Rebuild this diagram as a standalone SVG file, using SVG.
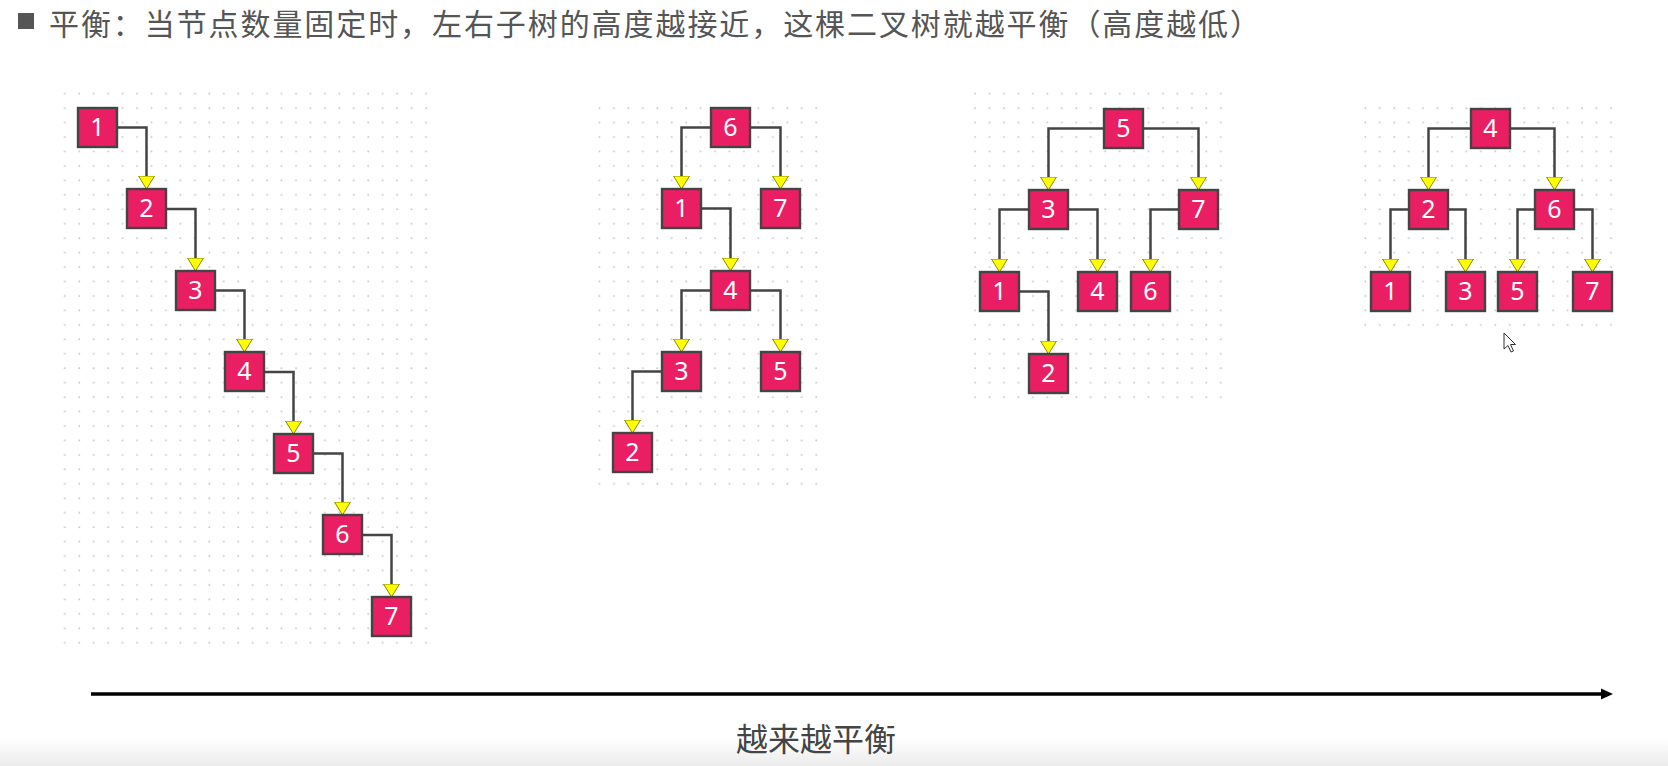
<svg xmlns="http://www.w3.org/2000/svg" width="1668" height="766" viewBox="0 0 1668 766">
<style>
.nd rect{fill:#E91E63;stroke:#444;stroke-width:2.4}
.nd text{fill:#fff;font-family:"Noto Sans","Open Sans",sans-serif;font-size:25px;text-anchor:middle}
.cn path{fill:none;stroke:#444;stroke-width:2.5;marker-end:url(#tri)}
.cjk{font-family:"Noto Sans CJK SC","Noto Sans",sans-serif}
</style>
<defs>
<marker id="tri" markerUnits="userSpaceOnUse" viewBox="0 0 14 17" refX="0.5" refY="8.5" markerWidth="14" markerHeight="17" orient="auto">
<path d="M0.5,0.5 L13.5,8.5 L0.5,16.5 Z" fill="#FFFF00" stroke="#8a8a00" stroke-width="1"/>
</marker>
<pattern id="dots" patternUnits="userSpaceOnUse" width="14.45" height="14.45" x="0" y="0">
<circle cx="7" cy="7" r="1" fill="#c9c9c9"/>
</pattern>
<linearGradient id="bot" x1="0" y1="0" x2="0" y2="1">
<stop offset="0" stop-color="#fff"/>
<stop offset="1" stop-color="#ebebeb"/>
</linearGradient>
</defs>
<rect width="1668" height="766" fill="#fff"/>
<rect x="0" y="738" width="1668" height="28" fill="url(#bot)"/>
<g id="grids">
<rect x="62" y="90" width="366" height="556" fill="url(#dots)"/>
<rect x="597" y="104" width="222" height="384" fill="url(#dots)"/>
<rect x="963" y="92" width="268" height="312" fill="url(#dots)"/>
<rect x="1356" y="99" width="264" height="232" fill="url(#dots)"/>
</g>
<g id="title">
<rect x="18" y="13" width="16" height="16" fill="#555"/>
<text class="cjk" x="49" y="35" font-size="30" fill="#555" textLength="1211" lengthAdjust="spacing">平衡：当节点数量固定时，左右子树的高度越接近，这棵二叉树就越平衡（高度越低）</text>
</g>
<g id="connectors" class="cn">
<path d="M117,127.5 H146.5 V176"/>
<path d="M166,209 H195.5 V258"/>
<path d="M215,290.5 H244.5 V339"/>
<path d="M264,372 H293.5 V421"/>
<path d="M313,453.5 H342.5 V502"/>
<path d="M362,535 H391.5 V584"/>
<path d="M711,127.5 H681.5 V176"/>
<path d="M750,127.5 H780.5 V176"/>
<path d="M701,208.5 H730.5 V258"/>
<path d="M711,290.5 H681.5 V339"/>
<path d="M750,290.5 H780.5 V339"/>
<path d="M662,371.5 H632.5 V420"/>
<path d="M1104,128.5 H1048.5 V177"/>
<path d="M1143,128.5 H1198.5 V177"/>
<path d="M1029,209.5 H999.5 V259"/>
<path d="M1068,209.5 H1097.5 V259"/>
<path d="M1179,209.5 H1150.5 V259"/>
<path d="M1019,291.5 H1048.5 V341"/>
<path d="M1471,128.5 H1428.5 V177"/>
<path d="M1510,128.5 H1554.5 V177"/>
<path d="M1409,209.5 H1390.5 V259"/>
<path d="M1448,209.5 H1465.5 V259"/>
<path d="M1535,209.5 H1517.5 V259"/>
<path d="M1574,209.5 H1592.5 V259"/>
</g>
<g id="t1">
<g id="t1n1" class="nd"><rect x="78" y="108" width="39" height="39"/><text x="97.5" y="136">1</text></g>
<g id="t1n2" class="nd"><rect x="127" y="189" width="39" height="39"/><text x="146.5" y="217">2</text></g>
<g id="t1n3" class="nd"><rect x="176" y="271" width="39" height="39"/><text x="195.5" y="299">3</text></g>
<g id="t1n4" class="nd"><rect x="225" y="352" width="39" height="39"/><text x="244.5" y="380">4</text></g>
<g id="t1n5" class="nd"><rect x="274" y="434" width="39" height="39"/><text x="293.5" y="462">5</text></g>
<g id="t1n6" class="nd"><rect x="323" y="515" width="39" height="39"/><text x="342.5" y="543">6</text></g>
<g id="t1n7" class="nd"><rect x="372" y="597" width="39" height="39"/><text x="391.5" y="625">7</text></g>
</g>
<g id="t2">
<g id="t2n6" class="nd"><rect x="711" y="108" width="39" height="39"/><text x="730.5" y="136">6</text></g>
<g id="t2n1" class="nd"><rect x="662" y="189" width="39" height="39"/><text x="681.5" y="217">1</text></g>
<g id="t2n7" class="nd"><rect x="761" y="189" width="39" height="39"/><text x="780.5" y="217">7</text></g>
<g id="t2n4" class="nd"><rect x="711" y="271" width="39" height="39"/><text x="730.5" y="299">4</text></g>
<g id="t2n3" class="nd"><rect x="662" y="352" width="39" height="39"/><text x="681.5" y="380">3</text></g>
<g id="t2n5" class="nd"><rect x="761" y="352" width="39" height="39"/><text x="780.5" y="380">5</text></g>
<g id="t2n2" class="nd"><rect x="613" y="433" width="39" height="39"/><text x="632.5" y="461">2</text></g>
</g>
<g id="t3">
<g id="t3n5" class="nd"><rect x="1104" y="109" width="39" height="39"/><text x="1123.5" y="137">5</text></g>
<g id="t3n3" class="nd"><rect x="1029" y="190" width="39" height="39"/><text x="1048.5" y="218">3</text></g>
<g id="t3n7" class="nd"><rect x="1179" y="190" width="39" height="39"/><text x="1198.5" y="218">7</text></g>
<g id="t3n1" class="nd"><rect x="980" y="272" width="39" height="39"/><text x="999.5" y="300">1</text></g>
<g id="t3n4" class="nd"><rect x="1078" y="272" width="39" height="39"/><text x="1097.5" y="300">4</text></g>
<g id="t3n6" class="nd"><rect x="1131" y="272" width="39" height="39"/><text x="1150.5" y="300">6</text></g>
<g id="t3n2" class="nd"><rect x="1029" y="354" width="39" height="39"/><text x="1048.5" y="382">2</text></g>
</g>
<g id="t4">
<g id="t4n4" class="nd"><rect x="1471" y="109" width="39" height="39"/><text x="1490.5" y="137">4</text></g>
<g id="t4n2" class="nd"><rect x="1409" y="190" width="39" height="39"/><text x="1428.5" y="218">2</text></g>
<g id="t4n6" class="nd"><rect x="1535" y="190" width="39" height="39"/><text x="1554.5" y="218">6</text></g>
<g id="t4n1" class="nd"><rect x="1371" y="272" width="39" height="39"/><text x="1390.5" y="300">1</text></g>
<g id="t4n3" class="nd"><rect x="1446" y="272" width="39" height="39"/><text x="1465.5" y="300">3</text></g>
<g id="t4n5" class="nd"><rect x="1498" y="272" width="39" height="39"/><text x="1517.5" y="300">5</text></g>
<g id="t4n7" class="nd"><rect x="1573" y="272" width="39" height="39"/><text x="1592.5" y="300">7</text></g>
</g>
<g id="axis">
<line x1="91" y1="694" x2="1603" y2="694" stroke="#000" stroke-width="3.3"/>
<path d="M1601,688.5 L1613,694 L1601,699.5 Z" fill="#000"/>
<text class="cjk" x="816" y="751" font-size="32" fill="#444" text-anchor="middle">越来越平衡</text>
</g>
<path id="cursor" d="M1504,333 V349 L1508,345.5 L1511,352 L1513.5,351 L1510.5,344.5 L1515.5,344.5 Z" fill="#fff" stroke="#333" stroke-width="1"/>
</svg>
